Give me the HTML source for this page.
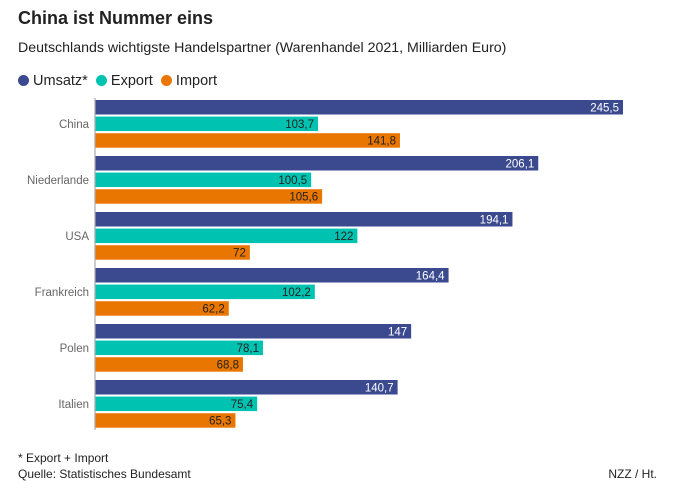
<!DOCTYPE html>
<html><head><meta charset="utf-8"><style>
body{margin:0;background:#fff;font-family:"Liberation Sans",sans-serif;}
#w{position:relative;width:673px;height:492px;overflow:hidden}
.t{position:absolute;white-space:nowrap}
</style></head><body><div id="w">
<div class="t" style="left:18px;top:8px;font-size:18px;font-weight:bold;color:#222">China ist Nummer eins</div>
<div class="t" style="left:18px;top:40px;font-size:14.2px;color:#222">Deutschlands wichtigste Handelspartner (Warenhandel 2021, Milliarden Euro)</div>
<div class="t" style="left:18px;top:73px;font-size:14.5px;color:#222">
<span><span style="display:inline-block;width:11px;height:11px;border-radius:50%;background:#3b4a8f;vertical-align:-1px"></span> Umsatz*</span>&nbsp;
<span><span style="display:inline-block;width:11px;height:11px;border-radius:50%;background:#00c2b0;vertical-align:-1px"></span> Export</span>&nbsp;
<span><span style="display:inline-block;width:11px;height:11px;border-radius:50%;background:#e97600;vertical-align:-1px"></span> Import</span></div>
<svg id="s" width="673" height="492" style="position:absolute;left:0;top:0"></svg>
<div class="t" style="left:18px;top:451px;font-size:12px;color:#222">* Export + Import</div>
<div class="t" style="left:18px;top:467px;font-size:12px;color:#222">Quelle: Statistisches Bundesamt</div>
<div class="t" style="right:16px;top:467px;font-size:12px;color:#222">NZZ / Ht.</div>
</div>
<script>
const categories=["China","Niederlande","USA","Frankreich","Polen","Italien"];
const umsatz=[245.5,206.1,194.1,164.4,147,140.7];
const exportV=[103.7,100.5,122,102.2,78.1,75.4];
const importV=[141.8,105.6,72,62.2,68.8,65.3];
const series=[umsatz,exportV,importV];
const colors=["#3b4a8f","#00c2b0","#e97600"];
const textCol=["#fff","#222","#222"];
const x0=95,k=(623-95)/245.5;
const xs=v=>x0+v*k;
const y=(i,j)=>100+i*56+j*16.6;
const bh=14.5;
const s=document.getElementById('s');const ns="http://www.w3.org/2000/svg";
categories.forEach((c,i)=>{
 const t=document.createElementNS(ns,'text');
 
 
 t.setAttribute('x',89);t.setAttribute('y',y(i,1)+bh/2+4);t.setAttribute('text-anchor','end');
 t.setAttribute('font-size','11.5');t.setAttribute('fill','#666');t.textContent=c;s.appendChild(t);
 series.forEach((sv,j)=>{
  const r=document.createElementNS(ns,'rect');
  
  
  r.setAttribute('x',x0);r.setAttribute('y',y(i,j));r.setAttribute('width',xs(sv[i])-x0);r.setAttribute('height',bh);r.setAttribute('fill',colors[j]);s.appendChild(r);
  const l=document.createElementNS(ns,'text');
  
  
  l.setAttribute('x',xs(sv[i])-4);l.setAttribute('y',y(i,j)+bh/2+4);l.setAttribute('text-anchor','end');
  l.setAttribute('font-size','11.5');l.setAttribute('fill',textCol[j]);l.textContent=String(sv[i]).replace('.',',');s.appendChild(l);
 });
});
const a=document.createElementNS(ns,'line');


a.setAttribute('x1',95);a.setAttribute('x2',95);a.setAttribute('y1',98);a.setAttribute('y2',430);a.setAttribute('stroke','#aaa');a.setAttribute('stroke-width','1.2');s.appendChild(a);
</script></body></html>
